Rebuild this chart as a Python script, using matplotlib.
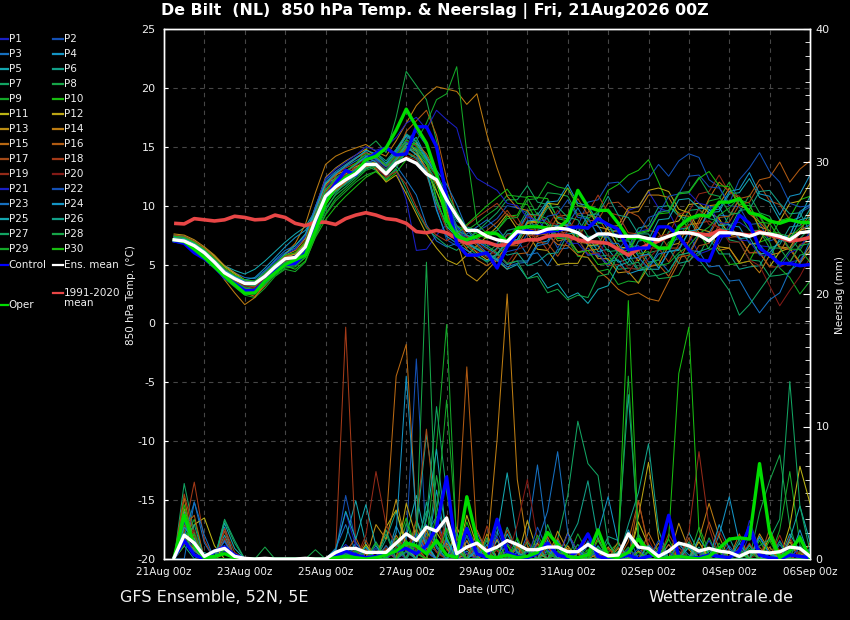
import matplotlib
matplotlib.use("Agg")
import matplotlib.pyplot as plt
from matplotlib.lines import Line2D
from matplotlib.ticker import MultipleLocator
import numpy as np

plt.rcParams["axes.unicode_minus"] = False

# ---------------- time axis ----------------
step_hours = list(range(6, 385, 6))          # 64 six-hourly steps after 21Aug 00z
tick_hours = [0, 48, 96, 144, 192, 240, 288, 336, 384]
tick_labels = ["21Aug 00z", "23Aug 00z", "25Aug 00z", "27Aug 00z", "29Aug 00z",
               "31Aug 00z", "02Sep 00z", "04Sep 00z", "06Sep 00z"]

# ---------------- 850 hPa temperature (°C) ----------------
ens_mean_temp = [7.1, 7.0, 6.6, 6.0, 5.2, 4.3, 3.8, 3.4, 3.4, 4.0, 4.8, 5.5, 5.6, 6.5, 8.8, 10.8,
                 11.6, 12.2, 12.7, 13.5, 13.5, 12.7, 13.6, 14.0, 13.6, 12.7, 12.2, 10.5, 9.1, 7.9, 7.9, 7.4,
                 7.1, 6.95, 7.8, 7.7, 7.7, 8.0, 8.1, 8.0, 7.7, 7.1, 7.6, 7.6, 7.4, 7.4, 7.4, 7.2,
                 7.1, 7.4, 7.7, 7.7, 7.5, 7.0, 7.7, 7.7, 7.6, 7.4, 7.7, 7.6, 7.4, 7.1, 7.7, 7.8]
control_temp = [7.0, 6.8, 6.0, 5.5, 4.8, 3.9, 3.4, 2.8, 2.8, 3.6, 4.4, 5.0, 5.1, 6.0, 8.2, 10.6,
                11.9, 13.0, 12.6, 13.9, 14.45, 14.9, 14.3, 14.4, 16.7, 16.7, 15.0, 10.8, 6.8, 5.8, 5.8, 6.0,
                4.7, 6.5, 7.65, 7.9, 7.65, 7.8, 7.9, 8.1, 8.2, 8.1, 8.9, 8.4, 8.0, 6.25, 6.4, 6.4,
                8.2, 8.2, 7.4, 6.25, 5.4, 5.3, 7.4, 7.5, 9.2, 8.5, 6.4, 5.8, 5.1, 5.1, 4.9, 5.0]
oper_temp = [7.1, 6.95, 6.3, 5.6, 4.8, 4.0, 3.3, 2.56, 2.6, 3.6, 4.3, 5.0, 5.4, 5.8, 7.9, 10.2,
             11.6, 12.4, 12.8, 13.9, 14.2, 14.9, 16.4, 18.2, 16.7, 15.3, 12.7, 8.8, 7.4, 7.1, 7.4, 7.7,
             7.6, 6.95, 8.1, 8.2, 8.2, 8.1, 8.0, 8.8, 11.3, 9.9, 9.6, 9.6, 8.5, 7.25, 7.3, 6.95,
             6.4, 6.4, 8.2, 8.9, 9.2, 9.1, 10.3, 10.3, 10.6, 9.4, 9.2, 8.7, 8.5, 8.8, 8.6, 8.55]
clim_temp = [8.5, 8.45, 8.9, 8.8, 8.7, 8.8, 9.1, 9.0, 8.8, 8.85, 9.2, 9.0, 8.5, 8.3, 8.6, 8.6,
             8.4, 8.9, 9.2, 9.4, 9.2, 8.9, 8.8, 8.5, 7.8, 7.7, 7.9, 7.7, 7.2, 6.8, 6.95, 6.9,
             6.6, 6.7, 6.9, 7.1, 7.1, 7.4, 7.5, 7.45, 7.1, 6.95, 6.9, 6.8, 6.3, 5.8, 6.3, 6.7,
             7.0, 7.4, 7.7, 7.7, 7.6, 7.5, 7.9, 7.7, 7.6, 7.5, 7.8, 7.5, 7.3, 7.0, 7.1, 7.3]

t_p01 = [7.3, 7.2, 6.8, 6.2, 5.4, 4.6, 4.0, 3.5, 3.3, 3.9, 4.7, 5.4, 5.8, 6.6, 8.9, 10.9,
         11.8, 12.4, 13.1, 13.6, 13.2, 12.5, 13.0, 10.5, 6.2, 6.3, 7.5, 8.4, 8.2, 7.3, 6.9, 6.6,
         6.8, 7.9, 8.1, 9.2, 8.6, 8.9, 7.2, 7.5, 6.0, 6.4, 5.6, 7.5, 7.7, 9.6, 9.9, 11.2,
         9.8, 9.5, 7.8, 7.6, 5.9, 6.2, 6.8, 8.4, 8.6, 8.0, 6.6, 6.5, 4.9, 5.2, 5.4, 6.5]
t_p02 = [7.0, 6.9, 6.7, 6.1, 5.3, 4.2, 3.6, 3.1, 3.3, 4.1, 5.0, 5.6, 5.9, 6.8, 9.4, 11.6,
         12.4, 12.9, 13.4, 14.1, 13.8, 13.1, 14.2, 15.1, 14.6, 13.2, 9.8, 7.1, 6.6, 7.2, 7.8, 8.3,
         8.9, 10.0, 9.8, 9.4, 7.6, 7.9, 6.4, 7.9, 8.3, 10.3, 10.5, 11.9, 12.0, 11.1, 12.1, 12.3,
         13.5, 12.5, 13.8, 14.4, 14.1, 12.2, 11.6, 10.0, 9.9, 8.4, 8.5, 7.0, 7.3, 7.5, 9.4, 9.9]
t_p03 = [7.4, 7.3, 6.9, 6.4, 5.7, 4.9, 4.3, 3.9, 3.8, 4.5, 5.3, 6.0, 6.4, 7.3, 9.9, 12.2,
         12.9, 13.5, 14.1, 14.6, 13.9, 12.8, 13.4, 12.2, 10.9, 8.4, 7.0, 6.5, 6.8, 7.6, 8.2, 8.8,
         8.1, 7.0, 7.1, 5.8, 6.0, 4.9, 6.3, 6.4, 8.2, 8.0, 9.3, 8.0, 7.8, 6.5, 6.6, 5.2,
         5.4, 4.4, 5.8, 6.0, 7.5, 7.7, 9.2, 9.1, 10.5, 9.3, 9.1, 7.6, 7.5, 6.2, 7.9, 8.4]
t_p04 = [7.2, 7.1, 6.5, 5.8, 4.9, 4.0, 3.2, 2.6, 2.5, 3.3, 4.4, 5.2, 5.5, 6.3, 8.4, 10.4,
         11.2, 11.9, 12.6, 13.2, 13.4, 12.9, 14.0, 15.2, 15.8, 14.1, 12.4, 10.2, 8.3, 7.5, 7.0, 6.4,
         5.9, 5.0, 5.3, 5.3, 6.8, 7.0, 8.5, 8.3, 8.2, 6.6, 6.6, 5.3, 5.4, 4.2, 4.5, 4.7,
         6.2, 6.4, 8.0, 8.1, 9.8, 9.9, 9.9, 8.3, 8.2, 6.8, 6.7, 5.6, 7.2, 7.5, 9.5, 10.1]
t_p05 = [7.0, 7.0, 6.7, 6.2, 5.6, 4.9, 4.5, 4.2, 4.6, 5.3, 6.1, 6.9, 7.6, 8.2, 9.6, 11.9,
         12.3, 12.8, 13.5, 14.2, 14.0, 13.3, 14.5, 15.9, 15.2, 13.9, 10.6, 8.2, 7.4, 6.8, 6.3, 5.7,
         6.4, 7.6, 7.7, 9.3, 9.2, 10.4, 9.0, 8.9, 7.4, 7.4, 6.1, 6.3, 5.2, 5.5, 4.5, 4.6,
         4.6, 6.1, 6.2, 7.8, 8.0, 9.4, 9.5, 11.0, 11.1, 12.3, 10.7, 10.3, 8.8, 8.7, 9.0, 10.8]
t_p06 = [7.5, 7.4, 7.0, 6.3, 5.5, 4.5, 3.9, 3.3, 3.0, 3.7, 4.5, 5.1, 5.2, 6.0, 8.1, 10.3,
         11.5, 12.1, 12.9, 13.9, 14.5, 13.8, 14.8, 16.1, 15.5, 14.2, 12.9, 10.1, 8.7, 8.2, 7.9, 7.5,
         7.1, 6.5, 7.9, 8.0, 9.4, 8.3, 8.3, 7.1, 7.2, 5.8, 5.9, 4.8, 6.2, 6.5, 8.1, 8.3,
         9.9, 10.0, 9.1, 8.9, 7.4, 7.3, 5.9, 5.9, 4.6, 4.8, 4.9, 6.4, 6.7, 8.2, 8.3, 9.7]
t_p07 = [7.1, 7.0, 6.6, 5.9, 5.0, 4.0, 3.5, 3.0, 3.1, 3.9, 4.6, 5.2, 5.3, 6.1, 8.6, 10.6,
         11.6, 12.3, 12.8, 13.4, 13.0, 12.2, 13.1, 11.4, 9.6, 8.1, 7.3, 6.6, 6.2, 7.0, 7.8, 8.6,
         9.4, 10.5, 10.5, 11.7, 10.3, 10.1, 8.5, 8.4, 7.0, 7.0, 5.7, 5.8, 4.6, 4.7, 4.6, 6.0,
         6.2, 7.8, 8.0, 9.6, 9.7, 8.9, 8.7, 7.1, 6.9, 5.4, 5.3, 4.0, 4.1, 4.3, 5.8, 6.0]
t_p08 = [7.3, 7.2, 6.8, 6.1, 5.1, 4.1, 3.5, 3.0, 2.9, 3.6, 4.3, 4.8, 4.9, 5.6, 7.6, 9.6,
         11.0, 12.0, 13.4, 14.8, 15.5, 14.5, 17.5, 21.4, 20.2, 19.0, 15.5, 11.0, 8.0, 6.9, 6.4, 6.0,
         6.7, 7.9, 8.1, 9.6, 9.7, 11.1, 11.0, 10.8, 9.2, 9.0, 7.4, 7.3, 5.9, 5.9, 4.6, 4.9,
         3.8, 3.9, 4.1, 5.7, 5.8, 7.4, 7.6, 9.2, 9.4, 10.9, 9.4, 9.1, 7.6, 7.4, 6.2, 7.6]
t_p09 = [6.9, 6.8, 6.4, 5.7, 4.8, 3.8, 3.1, 2.4, 2.2, 3.0, 4.0, 4.6, 4.4, 5.2, 7.4, 9.2,
         10.4, 11.2, 12.0, 12.6, 12.9, 12.3, 13.2, 14.6, 14.9, 13.8, 11.3, 9.0, 8.3, 7.9, 8.5, 9.2,
         9.8, 10.9, 10.8, 10.7, 9.2, 8.9, 7.3, 7.1, 5.7, 5.6, 4.4, 4.6, 3.3, 3.6, 3.5, 5.1,
         5.4, 6.9, 7.2, 8.7, 9.0, 10.4, 10.6, 12.0, 10.5, 10.2, 7.9, 6.9, 4.7, 3.9, 2.5, 3.6]
t_p10 = [7.2, 7.1, 6.6, 5.9, 5.1, 4.2, 3.6, 3.0, 2.8, 3.5, 4.3, 4.9, 4.6, 5.3, 7.3, 8.8,
         9.9, 10.8, 11.6, 12.4, 12.9, 12.1, 12.8, 13.9, 14.4, 13.6, 12.5, 11.2, 9.4, 8.1, 7.6, 7.2,
         7.9, 9.1, 9.2, 10.8, 10.7, 10.6, 8.9, 8.7, 7.3, 8.9, 9.5, 11.3, 11.8, 12.6, 13.0, 13.9,
         12.0, 9.9, 9.4, 7.9, 7.7, 6.3, 6.4, 5.0, 5.1, 5.3, 6.9, 7.2, 8.7, 9.0, 10.5, 10.8]
t_p11 = [7.4, 7.3, 6.9, 6.4, 5.7, 4.8, 4.2, 3.6, 3.5, 4.2, 5.0, 5.7, 5.9, 6.8, 9.1, 11.2,
         12.1, 12.7, 13.2, 13.8, 13.6, 12.9, 14.1, 15.3, 14.7, 13.0, 11.2, 9.3, 7.8, 6.8, 6.0, 5.4,
         5.9, 7.0, 7.1, 8.6, 8.7, 10.2, 10.1, 11.5, 10.0, 9.8, 8.2, 8.0, 6.5, 6.4, 5.3, 6.6,
         6.9, 8.5, 8.7, 10.1, 10.2, 9.4, 8.9, 7.5, 7.3, 6.0, 6.0, 4.8, 6.1, 6.4, 7.9, 8.2]
t_p12 = [7.1, 7.0, 6.5, 5.8, 5.0, 4.1, 3.4, 2.9, 2.9, 3.8, 4.8, 5.6, 5.9, 6.9, 9.6, 11.8,
         12.6, 13.0, 13.3, 13.7, 13.1, 12.0, 12.6, 11.0, 9.3, 7.6, 6.4, 5.4, 5.0, 5.8, 6.6, 7.4,
         8.2, 9.3, 8.0, 7.7, 6.3, 6.2, 5.0, 5.1, 5.1, 6.6, 6.7, 8.2, 8.3, 9.8, 9.9, 11.3,
         11.5, 11.2, 9.7, 9.4, 8.0, 7.8, 6.5, 6.4, 5.2, 6.7, 6.9, 8.5, 8.7, 10.2, 10.4, 11.9]
t_p13 = [7.6, 7.5, 7.1, 6.5, 5.8, 4.9, 4.3, 3.7, 3.4, 4.1, 5.0, 5.8, 6.2, 7.2, 9.8, 12.4,
         13.2, 13.8, 14.3, 14.8, 14.2, 13.3, 14.0, 15.0, 14.4, 13.2, 11.8, 9.6, 7.1, 4.2, 3.6, 4.5,
         5.4, 6.7, 6.8, 8.5, 8.6, 10.0, 8.6, 8.2, 6.9, 6.8, 5.5, 5.5, 4.3, 4.4, 3.4, 4.8,
         5.0, 6.6, 6.8, 8.4, 8.5, 10.0, 10.1, 11.5, 10.0, 9.7, 8.2, 7.9, 6.5, 6.4, 5.2, 6.6]
t_p14 = [7.3, 7.2, 6.8, 6.0, 4.9, 3.7, 2.6, 1.6, 2.2, 3.4, 4.8, 5.9, 6.8, 8.4, 11.1, 13.5,
         14.2, 14.6, 14.9, 15.2, 14.6, 14.2, 15.5, 17.0, 18.5, 19.4, 20.1, 19.9, 19.7, 18.6, 19.5, 16.0,
         13.2, 10.8, 9.8, 9.6, 8.3, 8.2, 7.0, 7.2, 6.1, 6.2, 6.3, 7.7, 7.9, 9.4, 9.5, 10.9,
         10.9, 10.7, 9.2, 9.1, 7.7, 7.6, 6.2, 6.4, 5.1, 5.3, 4.3, 5.8, 6.0, 7.6, 7.8, 9.4]
t_p15 = [7.0, 6.9, 6.4, 5.7, 4.8, 3.9, 3.2, 2.6, 2.3, 3.2, 4.2, 5.0, 5.1, 5.9, 8.0, 10.1,
         11.3, 12.0, 12.7, 13.3, 13.5, 12.8, 13.9, 14.8, 15.3, 14.4, 12.8, 10.4, 7.6, 6.3, 5.4, 4.9,
         5.5, 6.6, 6.6, 8.0, 7.9, 7.5, 6.7, 6.6, 5.8, 5.6, 4.5, 3.8, 2.9, 2.4, 2.6, 2.1,
         1.9, 3.6, 5.2, 7.0, 8.8, 10.6, 12.0, 11.2, 10.6, 9.3, 8.6, 7.7, 6.4, 6.3, 5.1, 6.2]
t_p16 = [7.2, 7.1, 6.7, 6.0, 5.2, 4.3, 3.6, 3.2, 3.1, 3.9, 4.6, 5.4, 5.5, 6.3, 8.7, 11.0,
         12.5, 13.4, 14.0, 14.5, 14.2, 13.4, 14.3, 16.3, 17.2, 18.1, 16.0, 12.3, 9.1, 7.4, 6.6, 5.9,
         5.3, 4.6, 5.9, 6.0, 7.5, 7.6, 9.1, 9.2, 10.6, 9.2, 9.0, 7.6, 7.5, 6.2, 6.2, 4.9,
         5.0, 4.0, 5.6, 5.8, 7.4, 7.5, 9.0, 9.1, 10.6, 10.8, 12.2, 12.4, 13.7, 12.0, 13.1, 13.8]
t_p17 = [7.5, 7.4, 7.0, 6.4, 5.6, 4.6, 4.0, 3.4, 3.2, 3.9, 4.7, 5.3, 5.4, 6.2, 8.3, 10.5,
         11.4, 12.1, 12.8, 13.7, 13.5, 12.7, 13.8, 14.6, 14.1, 13.2, 12.0, 9.3, 7.2, 6.4, 7.1, 7.9,
         8.6, 9.6, 8.4, 8.2, 6.9, 6.8, 5.7, 7.0, 7.2, 8.7, 8.8, 10.2, 10.3, 9.5, 9.1, 7.9,
         7.7, 6.4, 6.4, 5.2, 6.6, 6.8, 8.4, 8.6, 10.1, 10.3, 11.8, 10.4, 10.1, 8.8, 8.6, 7.4]
t_p18 = [7.0, 6.9, 6.5, 5.9, 5.1, 4.2, 3.7, 3.3, 3.2, 3.9, 4.9, 5.7, 6.0, 7.0, 9.4, 11.6,
         12.7, 13.2, 13.6, 13.9, 13.4, 12.4, 12.9, 11.8, 9.9, 8.2, 7.5, 7.0, 7.6, 8.3, 9.0, 9.6,
         10.2, 9.2, 9.0, 7.5, 7.4, 6.2, 7.6, 7.8, 9.3, 9.4, 10.9, 9.4, 9.2, 7.7, 7.6, 6.4,
         6.4, 5.2, 6.7, 6.9, 8.5, 8.7, 8.1, 7.3, 7.4, 6.0, 6.1, 4.8, 4.8, 5.2, 6.7, 7.0]
t_p19 = [7.3, 7.2, 6.7, 6.1, 5.3, 4.4, 3.9, 3.5, 3.5, 4.2, 5.0, 5.6, 5.7, 6.6, 8.9, 11.1,
         12.0, 12.6, 13.2, 13.6, 13.2, 12.5, 13.5, 14.2, 13.9, 12.6, 10.1, 8.0, 7.3, 6.7, 6.1, 5.6,
         6.3, 7.5, 7.6, 9.1, 9.2, 8.6, 8.4, 7.1, 7.2, 5.9, 6.0, 4.9, 5.0, 4.3, 5.6, 5.8,
         7.4, 7.6, 9.3, 9.5, 11.0, 11.2, 12.6, 11.1, 10.8, 9.3, 9.1, 7.6, 7.6, 6.2, 7.7, 7.9]
t_p20 = [7.1, 7.0, 6.6, 6.0, 5.2, 4.3, 3.7, 3.2, 3.0, 3.8, 4.7, 5.5, 5.7, 6.6, 9.1, 11.3,
         12.2, 12.8, 13.4, 14.0, 13.8, 13.0, 14.2, 15.5, 15.0, 13.8, 12.4, 9.9, 7.9, 7.2, 6.8, 6.3,
         5.8, 5.1, 6.3, 6.6, 8.0, 8.2, 9.6, 8.4, 8.2, 6.9, 6.9, 5.7, 5.8, 4.7, 4.6, 5.5,
         6.4, 6.6, 8.1, 8.3, 9.7, 8.4, 8.2, 6.9, 6.9, 5.4, 4.9, 3.2, 1.5, 2.8, 4.0, 5.6]
t_p21 = [7.2, 7.1, 6.7, 6.1, 5.3, 4.4, 3.9, 3.5, 3.5, 4.3, 5.2, 5.9, 6.3, 7.4, 9.9, 12.3,
         13.1, 13.7, 14.3, 15.0, 14.7, 15.0, 15.8, 17.0, 17.5, 16.5, 18.1, 17.3, 16.6, 13.6, 12.3, 11.8,
         11.3, 10.2, 10.0, 9.0, 8.8, 7.8, 7.8, 6.8, 6.8, 5.8, 5.9, 5.0, 6.2, 6.4, 7.8, 8.0,
         9.5, 9.6, 11.0, 11.1, 10.2, 10.0, 8.6, 8.4, 7.1, 7.0, 5.8, 5.8, 4.8, 6.0, 6.4, 7.8]
t_p22 = [7.0, 6.9, 6.5, 5.8, 4.9, 3.9, 3.2, 2.7, 2.6, 3.4, 4.4, 5.1, 5.3, 6.2, 8.5, 10.7,
         11.7, 12.4, 13.0, 13.6, 13.9, 13.3, 14.4, 15.6, 16.3, 15.1, 13.0, 10.4, 8.2, 7.0, 6.3, 5.8,
         5.3, 6.1, 6.3, 7.6, 7.8, 9.1, 9.3, 10.5, 9.0, 8.9, 7.5, 7.4, 6.2, 7.4, 7.6, 9.0,
         9.3, 10.8, 11.0, 12.5, 12.6, 11.6, 11.5, 10.2, 12.2, 13.2, 14.5, 12.9, 12.0, 10.2, 9.9, 10.0]
t_p23 = [7.4, 7.3, 6.8, 6.1, 5.3, 4.5, 4.0, 3.6, 3.6, 4.4, 5.4, 6.2, 6.6, 7.5, 9.9, 12.0,
         12.8, 13.3, 13.8, 14.3, 14.0, 13.5, 14.6, 15.4, 14.8, 13.9, 13.0, 11.8, 10.1, 8.0, 6.8, 6.0,
         5.5, 4.8, 5.1, 5.2, 6.6, 6.8, 8.3, 8.4, 9.8, 8.4, 8.3, 6.8, 6.8, 5.5, 5.6, 4.7,
         5.9, 6.1, 7.6, 6.2, 6.1, 4.8, 4.9, 3.6, 3.7, 2.2, 0.9, 2.0, 2.6, 4.5, 5.1, 7.0]
t_p24 = [7.1, 7.0, 6.6, 6.0, 5.3, 4.5, 4.0, 3.7, 3.9, 4.7, 5.6, 6.5, 7.3, 7.9, 9.2, 11.4,
         12.2, 12.9, 13.5, 14.1, 13.7, 12.8, 13.9, 15.0, 14.3, 12.9, 9.6, 7.4, 6.8, 6.2, 5.7, 5.3,
         5.9, 7.0, 7.1, 8.7, 8.8, 10.3, 10.4, 11.8, 10.2, 10.0, 8.6, 8.4, 7.0, 7.0, 5.7, 5.9,
         4.7, 6.1, 6.3, 7.8, 8.0, 9.6, 9.7, 11.2, 11.4, 12.8, 11.0, 10.8, 9.2, 10.8, 11.0, 12.6]
t_p25 = [7.3, 7.2, 6.8, 6.2, 5.4, 4.5, 3.9, 3.4, 3.3, 4.1, 5.0, 5.9, 6.6, 7.6, 9.6, 11.9,
         12.7, 13.4, 14.0, 14.7, 14.4, 13.6, 14.7, 16.0, 15.4, 14.0, 12.6, 10.0, 7.9, 6.8, 6.3, 5.9,
         5.4, 4.6, 5.0, 3.8, 4.3, 3.0, 3.4, 2.2, 2.6, 1.7, 2.9, 3.2, 4.9, 5.2, 7.0, 7.1,
         8.8, 8.9, 10.5, 10.6, 9.8, 9.7, 8.3, 8.4, 7.2, 7.3, 5.9, 6.0, 7.0, 7.1, 8.8, 9.0]
t_p26 = [7.0, 6.9, 6.4, 5.7, 4.9, 4.0, 3.4, 2.9, 2.7, 3.6, 4.6, 5.4, 5.6, 6.5, 8.8, 11.0,
         11.9, 12.5, 13.1, 13.8, 13.5, 12.7, 13.6, 14.5, 14.0, 12.8, 10.2, 8.6, 7.9, 7.5, 7.2, 6.9,
         6.5, 5.8, 6.0, 4.9, 5.2, 5.9, 6.0, 7.6, 7.7, 9.2, 9.3, 10.8, 9.2, 9.0, 7.6, 7.6,
         6.3, 6.4, 5.1, 5.3, 6.1, 6.4, 8.0, 8.0, 9.6, 9.7, 11.2, 11.3, 10.2, 9.3, 9.4, 7.8]
t_p27 = [7.2, 7.1, 6.7, 6.1, 5.3, 4.4, 3.8, 3.3, 3.2, 4.0, 4.8, 5.4, 5.4, 6.2, 8.2, 10.2,
         11.2, 11.8, 12.5, 13.2, 13.4, 12.9, 14.0, 15.0, 14.6, 13.5, 12.1, 9.8, 7.7, 6.6, 5.8, 5.2,
         5.8, 6.8, 6.9, 8.3, 8.4, 9.8, 9.9, 9.0, 8.8, 7.4, 7.4, 6.1, 6.2, 5.0, 5.2, 4.0,
         4.1, 4.4, 5.8, 6.0, 5.4, 4.3, 4.0, 2.8, 0.7, 1.6, 2.8, 4.0, 5.1, 6.2, 7.2, 8.1]
t_p28 = [6.9, 6.8, 6.4, 5.8, 5.0, 4.1, 3.5, 2.9, 2.7, 3.5, 4.3, 4.9, 5.0, 5.8, 7.8, 9.8,
         10.9, 11.6, 12.4, 13.1, 13.5, 13.0, 14.1, 15.3, 14.8, 13.7, 12.6, 11.1, 9.5, 8.0, 7.2, 6.6,
         6.0, 5.1, 5.3, 3.8, 4.0, 2.6, 2.9, 2.0, 2.4, 2.2, 4.0, 4.2, 5.8, 6.0, 7.6, 7.8,
         9.4, 9.6, 11.1, 11.2, 12.4, 11.0, 10.8, 9.4, 9.3, 7.9, 7.9, 6.4, 6.4, 5.2, 6.6, 6.8]
t_p29 = [7.2, 7.1, 6.7, 6.0, 5.1, 4.1, 3.4, 2.8, 2.6, 3.3, 4.1, 4.7, 4.8, 5.6, 7.5, 9.3,
         10.6, 11.4, 12.2, 13.0, 13.3, 12.8, 13.7, 14.6, 15.5, 17.0, 19.0, 19.5, 21.8, 14.5, 8.5, 7.6,
         7.9, 8.9, 9.0, 10.5, 10.6, 12.0, 11.6, 11.4, 10.0, 9.9, 8.5, 8.5, 7.0, 7.1, 5.9, 6.1,
         4.9, 5.1, 6.0, 6.6, 7.6, 8.2, 9.2, 9.8, 10.7, 9.3, 9.2, 7.7, 7.7, 6.3, 6.3, 5.2]
t_p30 = [7.4, 7.3, 6.9, 6.3, 5.5, 4.7, 4.1, 3.7, 3.6, 4.3, 5.1, 5.8, 6.0, 6.9, 9.2, 11.3,
         12.3, 12.9, 13.6, 14.4, 14.2, 13.4, 14.3, 15.6, 15.1, 13.7, 10.5, 8.3, 7.6, 8.4, 9.2, 10.0,
         10.7, 11.4, 10.2, 10.1, 8.6, 8.5, 7.2, 7.3, 6.0, 6.2, 5.0, 5.1, 6.1, 6.2, 7.7, 7.9,
         9.3, 9.4, 11.0, 11.1, 12.3, 12.9, 11.7, 11.6, 10.1, 10.0, 8.6, 8.5, 7.2, 7.3, 8.1, 8.9]

# ---------------- precipitation (mm per 6 h) ----------------
ens_mean_rain = [0.1, 1.8, 1.2, 0.2, 0.6, 0.8, 0.2, 0.05, 0.0, 0.05, 0.0, 0.0, 0.0, 0.05, 0.0, 0.0,
                 0.5, 0.8, 0.8, 0.5, 0.5, 0.5, 1.2, 1.9, 1.4, 2.4, 2.1, 3.1, 0.4, 0.9, 1.2, 0.6,
                 0.9, 1.4, 1.1, 0.7, 0.7, 0.9, 0.9, 0.55, 0.55, 1.1, 0.6, 0.25, 0.3, 1.9, 0.9, 0.8,
                 0.2, 0.6, 1.2, 1.0, 0.6, 0.8, 0.6, 0.5, 0.2, 0.55, 0.55, 0.45, 0.55, 0.9, 0.8, 0.2]
control_rain = [0.1, 1.4, 0.3, 0.0, 0.6, 0.9, 0.3, 0.0, 0.0, 0.0, 0.0, 0.0, 0.0, 0.0, 0.0, 0.0,
                0.2, 0.6, 0.3, 0.1, 0.2, 0.3, 0.6, 0.8, 0.4, 1.0, 2.4, 6.2, 0.1, 2.3, 0.4, 0.1,
                3.0, 0.5, 0.2, 0.1, 0.4, 1.2, 0.3, 0.1, 0.6, 1.9, 0.2, 0.0, 0.1, 0.3, 0.0, 0.2,
                0.4, 3.3, 0.2, 0.1, 0.1, 0.3, 0.2, 0.1, 0.6, 2.4, 0.3, 0.1, 0.0, 0.3, 0.2, 0.1]
oper_rain = [0.1, 3.3, 1.0, 0.1, 0.2, 0.4, 0.1, 0.0, 0.0, 0.0, 0.0, 0.0, 0.0, 0.0, 0.0, 0.0,
             0.1, 0.2, 0.1, 0.0, 0.1, 0.3, 0.6, 1.2, 1.0, 0.4, 1.4, 0.3, 0.1, 4.7, 1.5, 0.2,
             0.1, 0.3, 0.1, 0.2, 0.5, 2.0, 1.1, 0.2, 0.1, 0.3, 2.2, 0.2, 0.1, 0.5, 1.5, 0.6,
             0.0, 0.1, 0.2, 0.1, 0.0, 0.2, 0.8, 1.5, 1.6, 1.5, 7.2, 2.0, 0.1, 0.6, 1.6, 0.1]

# member precipitation: {step number (1..64): mm}, all other steps dry
r_p01 = {2: 1.2, 3: 0.8, 4: 0.3, 17: 0.3, 18: 1.1, 19: 0.4, 23: 0.8, 24: 2.1, 25: 0.5, 28: 1.5, 29: 0.3,
         31: 0.9, 34: 1.2, 35: 0.4, 38: 0.7, 42: 1.4, 43: 0.3, 46: 0.8, 50: 1.1, 51: 0.4, 55: 0.6,
         58: 1.8, 59: 0.5, 62: 0.9, 63: 0.3}
r_p02 = {2: 2.0, 3: 1.5, 5: 0.4, 6: 1.3, 18: 0.5, 21: 0.8, 24: 1.5, 25: 15.1, 26: 1.0, 27: 0.6, 30: 1.3,
         33: 2.1, 34: 0.4, 37: 1.6, 40: 0.5, 45: 0.9, 47: 0.3, 52: 1.2, 53: 0.4, 57: 0.7, 61: 1.4, 64: 0.3}
r_p03 = {3: 4.3, 4: 1.2, 6: 1.0, 7: 0.3, 17: 0.8, 18: 2.6, 19: 0.5, 22: 0.6, 26: 1.9, 27: 3.2, 28: 0.7,
         31: 2.0, 32: 0.4, 36: 1.8, 37: 7.1, 38: 1.3, 41: 0.6, 44: 0.4, 48: 1.1, 49: 0.3, 54: 0.8,
         59: 1.6, 60: 0.4}
r_p04 = {2: 1.5, 3: 0.6, 6: 2.4, 17: 0.2, 19: 1.2, 20: 0.4, 23: 2.5, 24: 0.8, 27: 5.2, 28: 1.0, 30: 0.6,
         33: 1.4, 35: 0.8, 39: 0.4, 43: 1.0, 46: 2.2, 47: 0.6, 51: 0.9, 55: 1.8, 56: 4.7, 57: 1.2,
         61: 0.5, 63: 1.0}
r_p05 = {2: 3.6, 3: 1.0, 6: 1.8, 18: 1.5, 19: 4.4, 20: 1.1, 24: 1.7, 25: 4.8, 26: 1.2, 29: 0.9, 30: 2.3,
         33: 1.8, 34: 6.5, 35: 1.4, 38: 0.6, 42: 1.3, 45: 0.5, 49: 0.7, 52: 2.0, 53: 0.5, 58: 1.1,
         62: 1.9, 63: 0.6}
r_p06 = {2: 1.0, 4: 0.5, 18: 0.6, 20: 0.9, 22: 1.5, 23: 3.6, 24: 0.8, 25: 2.2, 26: 9.4, 27: 4.0, 28: 1.6,
         31: 0.8, 34: 2.4, 35: 0.6, 39: 1.2, 44: 1.7, 45: 1.4, 46: 12.4, 47: 1.8, 48: 0.7, 53: 0.9,
         56: 1.6, 60: 0.5, 64: 0.8}
r_p07 = {2: 5.7, 3: 2.0, 6: 2.9, 7: 1.2, 17: 0.4, 19: 0.9, 22: 2.2, 25: 1.1, 26: 3.6, 27: 0.9, 30: 1.8,
         32: 0.5, 36: 1.3, 39: 1.5, 40: 4.8, 41: 10.4, 42: 7.2, 43: 6.3, 44: 1.2, 48: 0.6, 52: 0.9,
         57: 1.5, 61: 0.4, 64: 0.2}
r_p08 = {2: 2.6, 3: 0.9, 10: 0.9, 17: 0.5, 18: 0.9, 21: 1.3, 24: 2.7, 25: 0.6, 27: 6.3, 28: 2.0, 29: 0.5,
         32: 1.6, 35: 0.9, 38: 2.6, 39: 0.7, 43: 0.8, 47: 1.9, 48: 0.5, 51: 1.3, 54: 0.6, 59: 3.5,
         60: 5.9, 61: 7.85, 62: 2.5}
r_p09 = {2: 1.4, 3: 3.0, 6: 0.8, 18: 0.4, 20: 1.0, 23: 1.6, 25: 2.8, 26: 1.0, 27: 8.5, 28: 17.7, 29: 1.0,
         31: 0.7, 34: 1.1, 37: 0.6, 41: 1.9, 42: 0.4, 46: 0.9, 50: 1.5, 53: 2.4, 54: 0.6, 58: 0.8,
         61: 2.2, 62: 6.6, 63: 1.1}
r_p10 = {2: 2.2, 3: 1.1, 17: 0.2, 19: 0.6, 23: 0.9, 24: 3.1, 25: 0.7, 28: 1.7, 30: 2.8, 31: 0.6,
         35: 1.6, 38: 0.9, 42: 0.7, 44: 0.5, 45: 1.2, 46: 19.5, 47: 1.6, 48: 0.8, 52: 1.0, 55: 0.5,
         59: 1.4, 63: 0.5}
r_p11 = {2: 1.0, 3: 2.6, 4: 3.1, 5: 1.0, 18: 0.3, 20: 1.1, 22: 2.4, 23: 3.7, 24: 1.0, 27: 2.0, 28: 0.8,
         30: 3.3, 31: 1.0, 34: 0.6, 37: 1.2, 40: 2.0, 41: 0.5, 45: 0.8, 47: 2.8, 48: 1.0, 53: 1.3,
         57: 0.5, 60: 1.7, 62: 2.5, 63: 7.0, 64: 4.2}
r_p12 = {2: 1.8, 3: 0.7, 17: 0.6, 19: 0.3, 22: 1.0, 24: 4.2, 25: 1.6, 26: 0.5, 29: 2.4, 30: 0.8,
         33: 1.5, 36: 2.9, 37: 0.5, 40: 1.0, 43: 0.4, 47: 3.2, 48: 7.3, 49: 1.5, 54: 0.9, 58: 0.6, 62: 1.3}
r_p13 = {2: 2.9, 3: 1.3, 6: 0.4, 18: 0.9, 21: 2.6, 22: 1.5, 23: 4.5, 24: 1.0, 25: 0.9, 28: 1.2, 30: 0.4,
         32: 1.9, 35: 1.0, 39: 2.1, 40: 0.6, 44: 0.9, 49: 1.2, 51: 2.7, 52: 0.7, 56: 0.5, 59: 1.9, 60: 0.6}
r_p14 = {2: 3.8, 3: 1.6, 17: 0.4, 20: 0.7, 23: 1.8, 24: 0.6, 26: 2.2, 27: 0.5, 30: 1.4, 32: 0.5,
         33: 9.0, 34: 20.0, 35: 6.0, 36: 1.0, 40: 0.8, 43: 1.6, 47: 0.6, 50: 1.1, 53: 1.5, 54: 4.2,
         55: 1.7, 60: 0.9, 63: 0.4}
r_p15 = {2: 4.6, 3: 0.9, 18: 0.7, 20: 0.4, 22: 2.5, 23: 13.8, 24: 16.2, 25: 3.0, 26: 0.8, 29: 1.0,
         31: 2.2, 32: 0.5, 36: 0.8, 38: 1.7, 41: 0.4, 45: 1.3, 48: 2.0, 49: 0.5, 53: 0.6, 57: 1.9,
         61: 0.7, 64: 1.2}
r_p16 = {2: 2.5, 3: 3.3, 6: 1.5, 18: 0.5, 19: 1.6, 22: 0.7, 25: 2.3, 26: 0.6, 28: 2.8, 29: 1.3,
         30: 14.5, 31: 1.6, 32: 0.4, 35: 0.9, 39: 1.6, 42: 0.5, 46: 1.3, 47: 4.4, 48: 1.0, 51: 0.6,
         54: 2.8, 55: 0.8, 59: 0.9, 62: 1.5}
r_p17 = {2: 4.9, 3: 1.8, 6: 2.1, 17: 0.3, 20: 1.4, 23: 0.6, 25: 3.0, 26: 9.8, 27: 2.5, 28: 0.7,
         31: 1.2, 34: 2.2, 35: 0.5, 38: 0.9, 42: 1.8, 43: 0.4, 47: 4.4, 48: 0.8, 52: 1.6, 56: 0.6,
         60: 2.3, 61: 0.5}
r_p18 = {2: 2.0, 3: 5.8, 4: 1.4, 6: 2.3, 7: 0.5, 17: 0.5, 18: 17.5, 19: 0.8, 22: 0.8, 24: 1.4, 27: 2.7,
         28: 0.9, 32: 2.5, 33: 0.6, 37: 1.1, 40: 0.6, 44: 0.8, 50: 1.9, 51: 0.5, 55: 0.7, 58: 1.2, 62: 0.4}
r_p19 = {2: 1.6, 3: 0.8, 6: 1.6, 18: 0.6, 20: 1.8, 21: 6.6, 22: 2.6, 23: 0.9, 26: 1.7, 27: 0.5, 30: 1.0,
         33: 0.7, 36: 1.5, 39: 0.5, 45: 0.9, 49: 0.6, 52: 2.0, 53: 8.1, 54: 2.4, 57: 0.9, 61: 1.8, 63: 0.6}
r_p20 = {2: 1.1, 3: 2.2, 19: 0.8, 21: 0.5, 24: 2.0, 25: 0.7, 28: 3.3, 29: 0.5, 32: 0.9, 35: 2.6,
         36: 6.0, 37: 1.4, 41: 0.8, 44: 0.5, 48: 1.5, 51: 0.9, 55: 2.1, 56: 0.6, 59: 0.5, 62: 1.7}
r_p21 = {2: 1.4, 3: 1.0, 6: 0.6, 17: 0.6, 18: 3.5, 19: 1.0, 23: 0.7, 25: 1.9, 26: 0.5, 29: 1.3, 30: 0.4,
         33: 1.7, 36: 0.5, 40: 1.9, 41: 0.6, 46: 0.7, 50: 0.5, 54: 1.4, 58: 2.9, 59: 0.7, 63: 0.9}
r_p22 = {2: 2.8, 3: 1.2, 17: 0.4, 18: 4.8, 19: 1.3, 22: 1.0, 24: 0.5, 26: 2.6, 27: 0.8, 30: 1.7,
         34: 0.6, 37: 2.4, 38: 0.7, 42: 1.0, 47: 0.8, 49: 1.4, 53: 0.5, 56: 1.0, 60: 0.4, 64: 0.7}
r_p23 = {2: 1.7, 3: 4.3, 4: 1.8, 6: 1.4, 18: 0.4, 21: 1.0, 25: 2.0, 26: 0.6, 28: 1.4, 31: 0.8, 35: 0.5,
         37: 1.3, 38: 3.6, 39: 8.1, 40: 2.0, 43: 0.7, 46: 1.8, 51: 1.1, 52: 0.3, 57: 0.8, 61: 1.1}
r_p24 = {2: 2.4, 3: 1.5, 5: 0.5, 6: 1.0, 17: 0.5, 20: 0.9, 23: 2.0, 24: 13.8, 25: 3.0, 26: 1.0, 29: 2.0,
         32: 1.1, 36: 0.7, 39: 1.4, 42: 0.5, 43: 2.0, 44: 4.7, 45: 1.2, 49: 0.6, 52: 0.9, 55: 2.6,
         56: 0.8, 59: 1.7, 60: 0.4, 63: 2.2}
r_p25 = {2: 3.1, 3: 0.8, 6: 2.7, 7: 0.8, 17: 0.7, 18: 3.6, 19: 1.5, 20: 4.1, 21: 1.0, 24: 0.9, 26: 3.1,
         27: 8.3, 28: 1.5, 31: 0.6, 34: 1.9, 35: 0.5, 38: 1.4, 41: 0.7, 45: 0.5, 48: 1.0, 53: 1.6,
         54: 0.4, 57: 1.2, 60: 0.5, 62: 1.5, 63: 4.0, 64: 1.3}
r_p26 = {2: 1.3, 3: 2.6, 18: 0.8, 21: 0.6, 23: 1.2, 26: 4.3, 27: 1.0, 29: 0.7, 33: 2.5, 34: 0.6, 37: 0.9,
         40: 1.2, 41: 2.7, 42: 5.9, 43: 1.5, 46: 2.6, 47: 5.0, 48: 8.7, 49: 2.2, 53: 0.7, 58: 1.0, 62: 0.5}
r_p27 = {2: 1.9, 3: 0.4, 6: 3.0, 7: 1.4, 18: 0.5, 22: 1.9, 24: 0.6, 26: 3.0, 27: 11.5, 28: 5.0, 29: 0.8,
         32: 1.4, 36: 0.6, 39: 0.9, 44: 1.3, 48: 0.5, 52: 1.3, 56: 0.6, 59: 1.0, 60: 1.5, 61: 3.0,
         62: 13.4, 63: 4.0, 64: 0.6}
r_p28 = {2: 3.4, 3: 1.1, 15: 0.7, 17: 0.3, 19: 0.7, 23: 1.3, 25: 1.5, 26: 22.4, 27: 1.2, 28: 0.9,
         31: 1.5, 35: 1.2, 38: 0.4, 41: 1.1, 45: 0.6, 49: 0.9, 54: 1.6, 57: 0.4, 61: 1.3}
r_p29 = {2: 1.0, 3: 1.9, 6: 0.7, 18: 0.6, 21: 1.2, 24: 1.0, 25: 0.5, 27: 3.4, 28: 12.0, 29: 1.6,
         33: 0.8, 37: 1.8, 38: 0.5, 43: 0.9, 45: 1.0, 46: 13.8, 47: 1.4, 50: 0.7, 55: 1.2, 58: 0.5, 63: 1.8}
r_p30 = {2: 4.1, 3: 1.2, 17: 0.5, 20: 0.6, 24: 1.4, 25: 0.4, 28: 2.3, 29: 0.6, 34: 1.0, 39: 0.6,
         43: 1.4, 47: 0.5, 50: 1.6, 51: 14.0, 52: 17.5, 53: 2.2, 57: 0.7, 60: 1.4, 64: 0.5}

member_temps = [t_p01, t_p02, t_p03, t_p04, t_p05, t_p06, t_p07, t_p08, t_p09, t_p10,
                t_p11, t_p12, t_p13, t_p14, t_p15, t_p16, t_p17, t_p18, t_p19, t_p20,
                t_p21, t_p22, t_p23, t_p24, t_p25, t_p26, t_p27, t_p28, t_p29, t_p30]
member_rains = [r_p01, r_p02, r_p03, r_p04, r_p05, r_p06, r_p07, r_p08, r_p09, r_p10,
                r_p11, r_p12, r_p13, r_p14, r_p15, r_p16, r_p17, r_p18, r_p19, r_p20,
                r_p21, r_p22, r_p23, r_p24, r_p25, r_p26, r_p27, r_p28, r_p29, r_p30]

base_colors = ["#1a1fc4", "#1450b4", "#1670c0", "#1494c4", "#14a8b0", "#12a088", "#12a462", "#16a448",
               "#14a828", "#18bc10", "#bcb414", "#bca414", "#bc8e14", "#bc7c12", "#b86812", "#b05a12",
               "#a44a18", "#a43a18", "#942a18", "#821a16"]
member_colors = base_colors + base_colors[:10]

CTRL_C = "#0000ff"
OPER_C = "#00dd00"
MEAN_C = "#ffffff"
CLIM_C = "#e84646"
GRID_C = "#464646"
TXT_C = "#f0f0f0"

for name, arr in [("mean", ens_mean_temp), ("ctrl", control_temp), ("oper", oper_temp),
                  ("clim", clim_temp), ("mrain", ens_mean_rain), ("crain", control_rain),
                  ("orain", oper_rain)] + [("T%d" % (k + 1), a) for k, a in enumerate(member_temps)]:
    if len(arr) != len(step_hours):
        raise ValueError("%s has %d values" % (name, len(arr)))


def rain_series(d):
    return [d.get(k, 0.0) for k in range(1, len(step_hours) + 1)]


# ---------------- figure ----------------
W, H = 850, 620
fig = plt.figure(figsize=(W / 100, H / 100), dpi=100, facecolor="black")
ax = fig.add_axes([164 / W, 1 - 559 / H, 646 / W, 530 / H])
ax.set_facecolor("black")
ax2 = ax.twinx()

for temps, rains, c in zip(member_temps, member_rains, member_colors):
    ax.plot(step_hours, temps, color=c, lw=0.75, zorder=2)
    ax2.plot(step_hours, rain_series(rains), color=c, lw=0.75, zorder=2)

ax.plot(step_hours, clim_temp, color=CLIM_C, lw=2.6, zorder=3, solid_capstyle="butt")
ax.plot(step_hours, control_temp, color=CTRL_C, lw=2.4, zorder=4)
ax.plot(step_hours, oper_temp, color=OPER_C, lw=2.4, zorder=5)
ax.plot(step_hours, ens_mean_temp, color=MEAN_C, lw=2.4, zorder=6)

ax2.plot(step_hours, control_rain, color=CTRL_C, lw=2.4, zorder=4)
ax2.plot(step_hours, oper_rain, color=OPER_C, lw=2.4, zorder=5)
ax2.plot(step_hours, ens_mean_rain, color=MEAN_C, lw=2.4, zorder=6)

ax.set_xlim(0, 384)
ax.set_ylim(-20, 25)
ax2.set_ylim(0, 40)

ax.set_xticks(tick_hours)
ax.set_xticklabels(tick_labels)
ax.set_xticks(list(range(0, 385, 24)), minor=True)
ax.set_yticks(list(range(-20, 26, 5)))
ax.grid(True, which="both", axis="x", color=GRID_C, linestyle=(0, (4, 4)), lw=0.8)
ax.grid(True, which="major", axis="y", color=GRID_C, linestyle=(0, (4, 4)), lw=0.8)
ax.set_axisbelow(True)

ax.tick_params(axis="x", which="both", length=0, labelsize=7.5, labelcolor=TXT_C, pad=6)
ax.tick_params(axis="y", direction="in", length=3, color="white", labelsize=8, labelcolor=TXT_C, pad=6)
ax2.set_yticks([0, 10, 20, 30, 40])
ax2.yaxis.set_minor_locator(MultipleLocator(1))
ax2.tick_params(axis="y", which="major", direction="in", length=5, color="white",
                labelsize=8, labelcolor=TXT_C, pad=4)
ax2.tick_params(axis="y", which="minor", direction="in", length=3.5, color="white")

for a in (ax, ax2):
    for sp in a.spines.values():
        sp.set_color("white")
        sp.set_linewidth(1.0)

# axis titles
fig.text(131 / W, 1 - 295 / H, "850 hPa Temp. (°C)", rotation=90, ha="center", va="center",
         fontsize=7.5, color=TXT_C)
fig.text(840 / W, 1 - 295 / H, "Neerslag (mm)", rotation=90, ha="center", va="center",
         fontsize=7.5, color=TXT_C)
fig.text(486 / W, 1 - 589 / H, "Date (UTC)", ha="center", va="center", fontsize=7.5, color=TXT_C)

fig.text(435 / W, 1 - 11 / H, "De Bilt  (NL)  850 hPa Temp. & Neerslag | Fri, 21Aug2026 00Z",
         ha="center", va="center", fontsize=11.4, fontweight="bold", color="white")
fig.text(120 / W, 1 - 598 / H, "GFS Ensemble, 52N, 5E", ha="left", va="center",
         fontsize=11.5, color=TXT_C)
fig.text(793 / W, 1 - 598 / H, "Wetterzentrale.de", ha="right", va="center",
         fontsize=11.5, color=TXT_C)

# ---------------- legend (two columns, outside left) ----------------
def leg_entry(x_line0, x_line1, x_txt, y, color, label):
    fig.add_artist(Line2D([x_line0 / W, x_line1 / W], [1 - y / H, 1 - y / H],
                          transform=fig.transFigure, color=color, lw=1.6))
    fig.text(x_txt / W, 1 - y / H, label, ha="left", va="center", fontsize=7.5, color=TXT_C)


for k in range(30):
    row = k // 2
    y = 39 + row * 15
    if k % 2 == 0:
        leg_entry(0, 8, 8.5, y, member_colors[k], "P%d" % (k + 1))
    else:
        leg_entry(53, 63, 64, y, member_colors[k], "P%d" % (k + 1))
leg_entry(0, 8, 8.5, 265, CTRL_C, "Control")
leg_entry(53, 63, 64, 265, MEAN_C, "Ens. mean")
fig.add_artist(Line2D([53 / W, 63 / W], [1 - 292.5 / H, 1 - 292.5 / H],
                      transform=fig.transFigure, color=CLIM_C, lw=1.6))
fig.text(64 / W, 1 - 298 / H, "1991-2020\nmean", ha="left", va="center", fontsize=7.5,
         color=TXT_C, linespacing=0.95)
leg_entry(0, 8, 8.5, 305, OPER_C, "Oper")

fig.savefig("out.png", dpi=100, facecolor="black")
